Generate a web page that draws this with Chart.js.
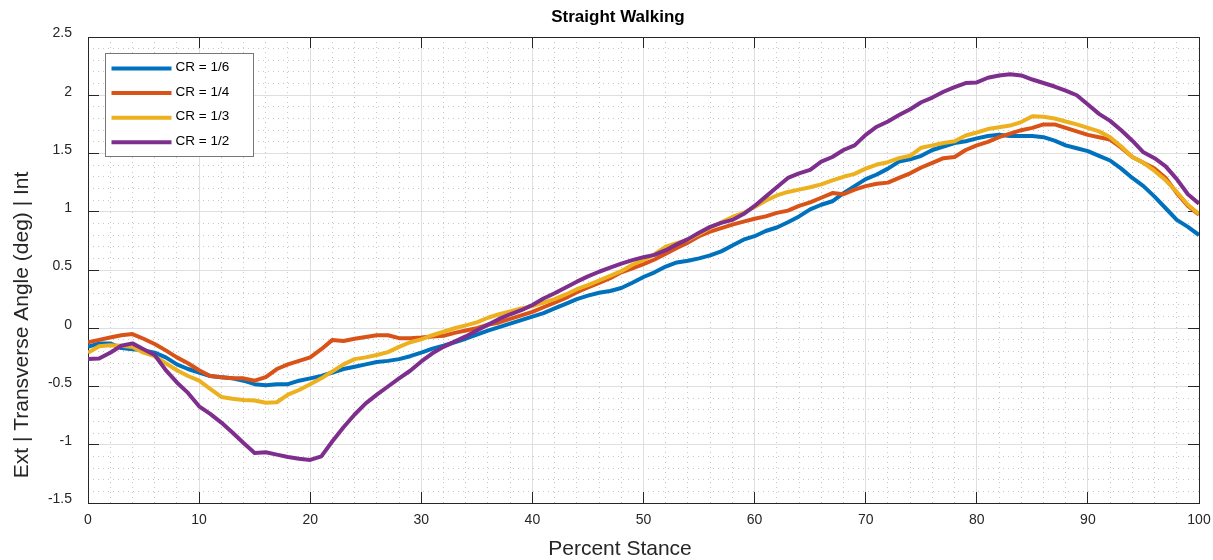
<!DOCTYPE html>
<html>
<head>
<meta charset="utf-8">
<title>Straight Walking</title>
<script src="https://cdn.jsdelivr.net/npm/chart.js@4.4.3/dist/chart.umd.min.js"></script>
<style>
  html, body { margin: 0; padding: 0; background: #fff; }
  #chart { display: block; }
</style>
</head>
<body>
<canvas id="chart" width="1213" height="560"></canvas>
<script>
// values, one point per percent of stance

const stance = Array.from({ length: 101 }, (_, i) => i);
const seriesLabels = ['CR = 1/6', 'CR = 1/4', 'CR = 1/3', 'CR = 1/2'];

const cr16 = [
    -0.16, -0.13, -0.13, -0.17, -0.18, -0.19, -0.21, -0.25, -0.31, -0.35,
    -0.38, -0.41, -0.42, -0.43, -0.45, -0.48, -0.49, -0.48, -0.48, -0.45,
    -0.43, -0.41, -0.38, -0.35, -0.33, -0.31, -0.29, -0.28, -0.265, -0.24,
    -0.21, -0.175, -0.15, -0.12, -0.09, -0.055, -0.02, 0.01, 0.04, 0.07,
    0.10, 0.13, 0.17, 0.21, 0.25, 0.28, 0.305, 0.32, 0.345, 0.39,
    0.44, 0.48, 0.53, 0.565, 0.58, 0.60, 0.625, 0.66, 0.71, 0.76,
    0.79, 0.835, 0.865, 0.91, 0.96, 1.02, 1.06, 1.09, 1.16, 1.22,
    1.28, 1.32, 1.37, 1.43, 1.45, 1.48, 1.53, 1.56, 1.59, 1.605,
    1.63, 1.65, 1.66, 1.65, 1.65, 1.65, 1.64, 1.61, 1.57, 1.545,
    1.52, 1.48, 1.44, 1.37, 1.29, 1.22, 1.13, 1.03, 0.93, 0.87,
    0.80,
];
const cr14 = [
    -0.12, -0.10, -0.08, -0.06, -0.05, -0.09, -0.135, -0.19, -0.25, -0.30,
    -0.36, -0.41, -0.42, -0.43, -0.43, -0.45, -0.42, -0.35, -0.31, -0.28,
    -0.25, -0.18, -0.10, -0.11, -0.09, -0.075, -0.06, -0.06, -0.085, -0.085,
    -0.08, -0.07, -0.065, -0.04, -0.02, 0.0, 0.03, 0.05, 0.08, 0.11,
    0.14, 0.18, 0.22, 0.26, 0.31, 0.35, 0.39, 0.43, 0.48, 0.515,
    0.55, 0.59, 0.64, 0.69, 0.735, 0.79, 0.83, 0.86, 0.89, 0.915,
    0.94, 0.96, 0.99, 1.01, 1.05, 1.08, 1.12, 1.16, 1.15, 1.19,
    1.22, 1.24, 1.25, 1.29, 1.33, 1.38, 1.42, 1.46, 1.47, 1.53,
    1.57, 1.60, 1.64, 1.67, 1.70, 1.72, 1.75, 1.75, 1.72, 1.69,
    1.66, 1.64, 1.62, 1.55, 1.47, 1.42, 1.37, 1.29, 1.16, 1.05,
    0.975,
];
const cr13 = [
    -0.21, -0.155, -0.145, -0.15, -0.16, -0.21, -0.24, -0.30, -0.36, -0.41,
    -0.45, -0.52, -0.59, -0.605, -0.615, -0.62, -0.64, -0.635, -0.57, -0.53,
    -0.48, -0.43, -0.37, -0.31, -0.265, -0.25, -0.23, -0.205, -0.16, -0.12,
    -0.095, -0.06, -0.03, 0.0, 0.025, 0.05, 0.09, 0.12, 0.145, 0.17,
    0.19, 0.22, 0.25, 0.29, 0.335, 0.37, 0.41, 0.45, 0.49, 0.545,
    0.585, 0.635, 0.70, 0.73, 0.76, 0.81, 0.86, 0.91, 0.955, 0.99,
    1.04, 1.095, 1.14, 1.17, 1.19, 1.21, 1.235, 1.27, 1.30, 1.325,
    1.37, 1.405, 1.425, 1.46, 1.48, 1.55, 1.57, 1.59, 1.605, 1.655,
    1.68, 1.71, 1.725, 1.74, 1.77, 1.82, 1.815, 1.80, 1.775, 1.75,
    1.72, 1.69, 1.64, 1.56, 1.47, 1.42, 1.35, 1.27, 1.17, 1.06,
    0.98,
];
const cr12 = [
    -0.265, -0.26, -0.21, -0.15, -0.13, -0.18, -0.23, -0.36, -0.465, -0.555,
    -0.67, -0.735, -0.81, -0.895, -0.985, -1.07, -1.065, -1.085, -1.105, -1.12,
    -1.13, -1.10, -0.97, -0.85, -0.74, -0.645, -0.57, -0.50, -0.43, -0.365,
    -0.285, -0.215, -0.16, -0.115, -0.07, -0.02, 0.03, 0.08, 0.12, 0.155,
    0.20, 0.255, 0.30, 0.35, 0.40, 0.445, 0.485, 0.52, 0.555, 0.585,
    0.61, 0.63, 0.67, 0.72, 0.765, 0.82, 0.87, 0.905, 0.93, 0.98,
    1.05, 1.13, 1.21, 1.29, 1.33, 1.36, 1.43, 1.47, 1.53, 1.57,
    1.66, 1.73, 1.775, 1.83, 1.88, 1.94, 1.98, 2.03, 2.07, 2.105,
    2.11, 2.15, 2.17, 2.18, 2.17, 2.135, 2.105, 2.075, 2.04, 2.00,
    1.92, 1.84, 1.78, 1.70, 1.61, 1.51, 1.46, 1.39, 1.28, 1.15,
    1.07,
];

const xTicks = [0, 10, 20, 30, 40, 50, 60, 70, 80, 90, 100];
const yTicks = [-1.5, -1, -0.5, 0, 0.5, 1, 1.5, 2, 2.5];

const chartTitle = 'Straight Walking';
const xTitle = 'Percent Stance';
const yTitle = 'Ext | Transverse Angle (deg) | Int';

// styling, matlab default look

const lineColors = ['#0072BD', '#D95319', '#EDB120', '#7E2F8E'];
const ink = '#262626';
const majorGrid = '#dfdfdf';
const minorGrid = '#c6c6c6';
const fontFamily = "'Liberation Sans', Arial, Helvetica, sans-serif";
Chart.defaults.font.family = fontFamily;

const isMultiple = (v, step) => Math.abs(v / step - Math.round(v / step)) < 1e-6;
const setTicks = (values) => (axis) => { axis.ticks = values.map((value) => ({ value })); };

// fixed box sizes so the plot area lands where matlab put it
const fixSize = (size, isX) => (axis) => {
    if (isX) axis.height = size; else axis.width = size;
    axis.paddingLeft = 0;
    axis.paddingRight = 0;
    axis.paddingTop = 0;
    axis.paddingBottom = 0;
};

// box edges with inward tick marks, no labels
function frameAxis(position, values, isX) {
    return {
        type: 'linear',
        position,
        min: isX ? 0 : -1.5,
        max: isX ? 100 : 2.5,
        afterBuildTicks: setTicks(values),
        ticks: { display: false },
        grid: { drawOnChartArea: false, tickLength: -11, tickColor: ink },
        border: { color: ink },
        afterFit: fixSize(0, isX),
    };
}

// dotted minor grid every 2 % / 0.1 deg
function minorAxis(position, isX) {
    const major = isX ? 10 : 0.5;
    return {
        type: 'linear',
        position,
        min: isX ? 0 : -1.5,
        max: isX ? 100 : 2.5,
        ticks: { display: false, stepSize: isX ? 2 : 0.1, autoSkip: false },
        grid: {
            drawTicks: false,
            color: (ctx) => (ctx.tick && isMultiple(ctx.tick.value, major) ? 'rgba(0,0,0,0)' : minorGrid),
        },
        border: { display: false, dash: [1, 4] },
        afterFit: fixSize(0, isX),
    };
}

// legend box and titles, drawn the way matlab places them
const matlabText = {
    id: 'matlabText',
    afterDraw(chart) {
        const { ctx, chartArea } = chart;
        ctx.save();

        const bx = Math.round(chartArea.left) + 17.5;
        const by = Math.round(chartArea.top) + 16.5;
        ctx.fillStyle = '#fff';
        ctx.fillRect(bx, by, 148, 103);
        ctx.strokeStyle = '#777';
        ctx.lineWidth = 1;
        ctx.strokeRect(bx, by, 148, 103);
        ctx.font = `13.5px ${fontFamily}`;
        ctx.textAlign = 'left';
        ctx.textBaseline = 'alphabetic';
        chart.data.datasets.forEach((ds, i) => {
            const y = by + 15 + i * 24.6;
            ctx.strokeStyle = ds.borderColor;
            ctx.lineWidth = 4;
            ctx.beginPath();
            ctx.moveTo(bx + 6, y);
            ctx.lineTo(bx + 66, y);
            ctx.stroke();
            ctx.fillStyle = '#000';
            ctx.fillText(ds.label, bx + 70, y + 2.5);
        });

        ctx.textAlign = 'center';
        ctx.fillStyle = '#000';
        ctx.font = `bold 17px ${fontFamily}`;
        ctx.fillText(chartTitle, 618, 22);

        ctx.fillStyle = ink;
        ctx.font = `21px ${fontFamily}`;
        ctx.fillText(xTitle, 620, 555);

        ctx.translate(28, 325);
        ctx.rotate(-Math.PI / 2);
        ctx.fillText(yTitle, 0, 0);
        ctx.restore();
    },
};

function main() {
    const series = [cr16, cr14, cr13, cr12];
    const datasets = series.map((values, i) => ({
        label: seriesLabels[i],
        data: stance.map((x, j) => ({ x, y: values[j] })),
        borderColor: lineColors[i],
        backgroundColor: lineColors[i],
        borderWidth: 4,
        borderJoinStyle: 'round',
        pointRadius: 0,
        tension: 0,
        fill: false,
        order: series.length - i, // last series on top, like matlab
    }));

    new Chart(document.getElementById('chart'), {
        type: 'line',
        data: { datasets },
        plugins: [matlabText],
        options: {
            responsive: false,
            animation: false,
            devicePixelRatio: 1,
            events: [],
            layout: { padding: { top: 37, right: 14, bottom: 0, left: 0 } },
            plugins: {
                legend: { display: false },
                title: { display: false },
                tooltip: { enabled: false },
            },
            scales: {
                xMinor: minorAxis('bottom', true),
                yMinor: minorAxis('left', false),
                x: {
                    type: 'linear',
                    position: 'bottom',
                    min: 0,
                    max: 100,
                    afterBuildTicks: setTicks(xTicks),
                    ticks: {
                        callback: (v) => String(v),
                        color: ink,
                        font: { size: 14 },
                        padding: 20,
                        maxRotation: 0,
                        autoSkip: false,
                    },
                    grid: { color: majorGrid, tickLength: -11, tickColor: ink },
                    border: { color: ink },
                    afterFit: fixSize(57, true),
                },
                y: {
                    type: 'linear',
                    position: 'left',
                    min: -1.5,
                    max: 2.5,
                    afterBuildTicks: setTicks(yTicks),
                    ticks: {
                        callback: (v) => String(v),
                        color: ink,
                        font: { size: 14 },
                        padding: 27,
                        labelOffset: -3.5,
                        autoSkip: false,
                    },
                    grid: { color: majorGrid, tickLength: -11, tickColor: ink },
                    border: { color: ink },
                    afterFit: fixSize(88, false),
                },
                xTop: frameAxis('top', xTicks, true),
                yRight: frameAxis('right', yTicks, false),
            },
        },
    });
}

main();
</script>
</body>
</html>
